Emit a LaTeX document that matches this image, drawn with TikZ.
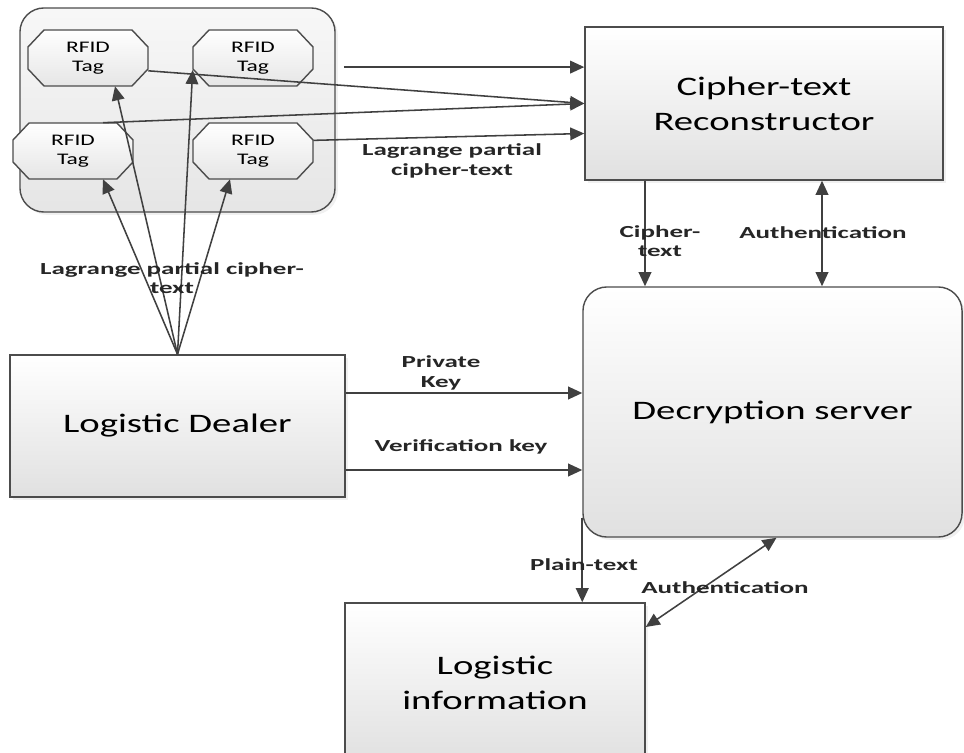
\documentclass[tikz,border=0pt]{standalone}
\usepackage{fontspec}
\setmainfont{Carlito}[FakeStretch=1.45, BoldFeatures={FakeStretch=1.6}]
\usetikzlibrary{arrows.meta,shadows}

\tikzset{
  box/.style={draw=black!70, line width=1pt, top color=white, bottom color=black!12,
              drop shadow={opacity=0.12, shadow xshift=2pt, shadow yshift=-2pt},
              align=center, inner sep=0pt, font=\fontsize{19}{25}\selectfont},
  octo/.style={draw=black!70, line width=1pt, top color=white, bottom color=black!10},
  tag/.style={minimum width=3cm, minimum height=1.4cm, inner sep=0pt, align=center,
              font=\fontsize{11.5}{13.5}\selectfont},
  lbl/.style={font=\bfseries\fontsize{12}{14}\selectfont, align=center, text=black!85},
  arr/.style={draw=black!75, line width=1.1pt, -{Triangle[length=10pt,width=9pt]}},
  arrb/.style={arr, {Triangle[length=10pt,width=9pt]}-{Triangle[length=10pt,width=9pt]}},
}

\begin{document}
\begin{tikzpicture}[x=0.025cm, y=-0.025cm]
   \useasboundingbox (0,0) rectangle (964,753);
   % Tag group
   \node [box, rounded corners=0.6cm, minimum width=7.875cm, minimum height=5.1cm,
          top color=black!3, bottom color=black!10] (grp) at (177.5,110) {};
   % RFID tags
   \foreach \n/\x/\y in {tag1/88/58, tag2/253/58, tag3/73/151, tag4/253/151} {
      \path [octo] (\x-44,\y-28) -- (\x+44,\y-28) -- (\x+60,\y-11) -- (\x+60,\y+11)
         -- (\x+44,\y+28) -- (\x-44,\y+28) -- (\x-60,\y+11) -- (\x-60,\y-11) -- cycle;
      \node [tag] (\n) at (\x,\y) {RFID\\Tag};
   }
   % Boxes
   \node [box, minimum width=8.95cm, minimum height=3.825cm] (recon) at (764,103.5) {Cipher-text\\Reconstructor};
   \node [box, rounded corners=0.6cm, minimum width=9.475cm, minimum height=6.25cm] (srv) at (772.5,412) {Decryption server};
   \node [box, minimum width=8.375cm, minimum height=3.55cm] (dealer) at (177.5,426) {Logistic Dealer};
   \node [box, minimum width=7.5cm, minimum height=4cm] (info) at (495,683) {Logistic\\information};
   % Tags -> reconstructor
   \coordinate (r1) at ([yshift=0.91cm]recon.west);
   \draw [arr] ([xshift=0.2cm]grp.east |- r1) -- (r1);
   \draw [arr] (tag1.-12) -- (recon.west);
   \draw [arr] ([xshift=0.75cm]tag3.north) -- (recon.west);
   \draw [arr] (tag4.10) -- ([yshift=-0.75cm]recon.west);
   \node [lbl] (lg1) at (452,161) {Lagrange partial\\cipher-text};
   % Dealer -> tags
   \foreach \t/\dx/\dy/\a in {tag1/0.675/0/south, tag3/0.75/0/south, tag4/-0.575/0/south, tag2/0/-0.3/west}
      \draw [arr] (dealer.north) -- ([xshift=\dx cm, yshift=\dy cm]\t.\a);
   \node [lbl] (lg2) at (172,278) {Lagrange partial cipher-\\text};
   % Reconstructor <-> server
   \coordinate (cx) at (645,0);
   \coordinate (ax) at (822,0);
   \draw [arr] (recon.south -| cx) -- (srv.north -| cx);
   \draw [arrb] (recon.south -| ax) -- (srv.north -| ax);
   \node [lbl] (ct) at (660,241) {Cipher-\\text};
   \node [lbl] (au1) at (823,233) {Authentication};
   % Dealer -> server
   \coordinate (py) at (0,393);
   \coordinate (vy) at (0,470);
   \draw [arr] (dealer.east |- py) -- (srv.west |- py);
   \draw [arr] (dealer.east |- vy) -- (srv.west |- vy);
   \node [lbl] (pk) at (441,373) {Private\\Key};
   \node [lbl] (vk) at (461,447) {Verification key};
   % Server -> information
   \draw [arr] ([yshift=0.5cm]srv.south west) -- (info.north -| srv.west);
   \draw [arrb] ([yshift=1.4cm]info.east) -- ([xshift=0.1cm]srv.south);
   \node [lbl] (pt) at (584,565) {Plain-text};
   \node [lbl] (au2) at (725,588) {Authentication};
\end{tikzpicture}
\end{document}
